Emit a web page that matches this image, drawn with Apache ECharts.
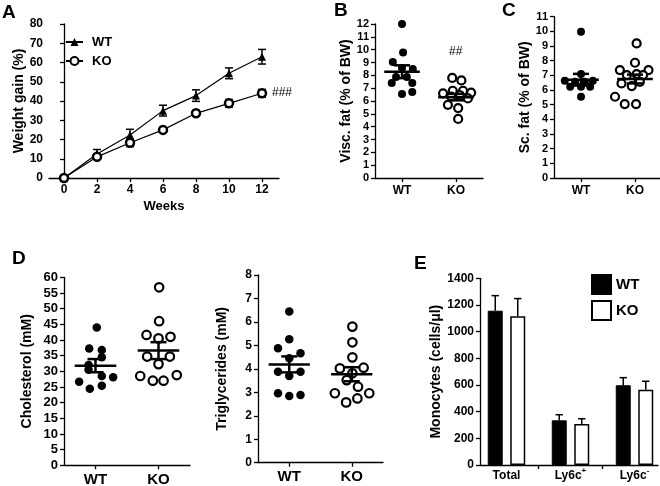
<!DOCTYPE html>
<html><head><meta charset="utf-8">
<script src="https://cdn.jsdelivr.net/npm/echarts@6/dist/echarts.min.js"></script>
<style>html,body{margin:0;padding:0;background:#fff}#c{width:660px;height:486px}</style>
</head><body><div id="c"></div>
<script>
// ---------- DATA ----------
// Panel A: weight gain (%)
const weeks = [0, 2, 4, 6, 8, 10, 12];
const wtGain = [0, 12.5, 22.3, 35, 42.8, 54.4, 63];
const wtGainSem = [0, 2.3, 3, 2.8, 3, 2.8, 3.8];
const koGain = [0, 11, 18.3, 25, 33.6, 38.8, 44];
const koGainSem = [0, 1.2, 2, 1, 1.5, 2, 2];
const groups = ['WT', 'KO'];
// Panel B: visceral fat (% of BW)
const viscWT = [12.0, 9.77, 9.04, 8.57, 8.5, 7.87, 7.87, 7.4, 7.4, 6.55, 6.7];
const viscWTJit = [0, 0.02, -0.17, 0, 0.2, -0.11, 0.09, -0.19, 0.19, 0, 0.19];
const viscKO = [7.8, 7.6, 6.6, 6.8, 6.8, 6.65, 6.2, 6.45, 5.7, 5.45, 4.6, 6.35];
const viscKOJit = [-0.07, 0.1, -0.24, -0.06, 0.13, 0.28, 0.22, 0.07, -0.15, 0.04, 0.04, -0.09];
const viscMean = [8.28, 6.3];
const viscSem = [0.5, 0.25];
// Panel C: subcutaneous fat (% of BW)
const scWT = [9.97, 7.09, 6.63, 6.63, 6.56, 6.56, 6.22, 6.22, 6.22, 5.54];
const scWTJit = [0, 0, -0.3, 0.22, -0.11, 0.07, -0.2, 0, 0.17, 0];
const scKO = [9.18, 7.86, 7.36, 7.36, 7.02, 7.09, 7.02, 6.45, 6.27, 6.56, 5.54, 5.04, 5.04];
const scKOJit = [0.03, 0, -0.28, 0.25, -0.15, 0.03, 0.15, -0.25, -0.06, 0.09, -0.37, -0.19, 0.02];
const scMean = [6.7, 6.75];
const scSem = [0.4, 0.3];
// Panel D: cholesterol (mM)
const cholWT = [44, 37.3, 36.8, 34.5, 32, 30.5, 28.5, 28.1, 26.7, 25.4, 24.4];
const cholWTJit = [0.02, -0.1, 0.1, 0.1, -0.11, -0.11, 0.1, 0.28, -0.26, 0.1, -0.09];
const cholKO = [56.8, 46, 41.6, 40.5, 41, 34.7, 34.7, 32.3, 28.5, 27, 27, 28.8];
const cholKOJit = [0.01, 0.01, -0.19, 0, 0.19, -0.18, 0.18, 0, -0.29, -0.09, 0.08, 0.29];
const cholMean = [31.8, 36.6];
const cholSem = [2.1, 2.7];
// Panel D: triglycerides (mM)
const trigWT = [6.44, 5.26, 4.88, 4.66, 4.45, 3.88, 3.88, 3.7, 2.96, 2.84, 2.89];
const trigWTJit = [0, 0, -0.18, 0.18, 0, -0.18, 0.18, 0, -0.18, 0, 0.18];
const trigKO = [5.8, 5.13, 4.49, 4.02, 4.05, 3.81, 3.52, 3.24, 2.96, 2.96, 2.57, 2.74];
const trigKOJit = [0.01, 0.01, 0.01, -0.19, 0.19, 0.01, -0.08, 0.1, -0.27, 0.28, -0.09, 0.09];
const trigMean = [4.19, 3.77];
const trigSem = [0.34, 0.3];
// Panel E: monocytes (cells/µl)
const monoCats = ['Total', 'Ly6c{sup|+}', 'Ly6c{sup|-}'];
const monoWT = [1157, 335, 598];
const monoWTErr = [113, 42, 57];
const monoKO = [1115, 307, 565];
const monoKOErr = [133, 40, 63];
// ---------- END DATA ----------

const FONT = '"Liberation Sans", Arial, Helvetica, sans-serif';
const BLACK = '#000';

function yAx(gi, max, interval, name, nameGap, fs) {
  return {
    type: 'value', gridIndex: gi, min: 0, max: max, interval: interval,
    name: name, nameLocation: 'middle', nameGap: nameGap,
    nameTextStyle: {fontFamily: FONT, fontWeight: 'bold', fontSize: 14, color: BLACK},
    axisLine: {show: true, lineStyle: {color: BLACK, width: 1.3}},
    axisTick: {show: true, length: 4, lineStyle: {color: BLACK, width: 1.3}},
    axisLabel: {fontFamily: FONT, fontWeight: 'bold', fontSize: fs, color: BLACK, margin: 6,
      formatter: v => String(v)},
    splitLine: {show: false}
  };
}
function xGroup(gi, fs) {
  return {
    type: 'value', gridIndex: gi, min: 0.5, max: 2.5,
    axisLine: {show: true, onZero: false, lineStyle: {color: BLACK, width: 1.3}},
    axisTick: {show: true, length: 4, customValues: [1, 2], lineStyle: {color: BLACK, width: 1.3}},
    axisLabel: {customValues: [1, 2], formatter: v => groups[Math.round(v) - 1],
      fontFamily: FONT, fontWeight: 'bold', fontSize: fs, color: BLACK, margin: 7},
    splitLine: {show: false}
  };
}
function pts(vals, jit, g) { return vals.map((v, i) => [g + jit[i], v]); }
function dotSeries(gi, vals, jit, g, hollow, size) {
  return {
    type: 'scatter', xAxisIndex: gi, yAxisIndex: gi, symbol: 'circle', symbolSize: size,
    data: pts(vals, jit, g), z: 3,
    itemStyle: hollow ? {color: '#fff', borderColor: BLACK, borderWidth: 2.2, opacity: 1}
                      : {color: BLACK, opacity: 1}
  };
}
function meanSemRender(params, api) {
  const x = api.value(0), m = api.value(1), s = api.value(2);
  const a = api.coord([x - 0.33, m]), b = api.coord([x + 0.33, m]);
  const t = api.coord([x, m + s]), d = api.coord([x, m - s]);
  const w = 8, st = {stroke: BLACK, lineWidth: 2.5};
  return {type: 'group', children: [
    {type: 'line', shape: {x1: a[0], y1: a[1], x2: b[0], y2: b[1]}, style: st},
    {type: 'line', shape: {x1: t[0], y1: t[1], x2: d[0], y2: d[1]}, style: st},
    {type: 'line', shape: {x1: t[0] - w, y1: t[1], x2: t[0] + w, y2: t[1]}, style: st},
    {type: 'line', shape: {x1: d[0] - w, y1: d[1], x2: d[0] + w, y2: d[1]}, style: st}
  ]};
}
function meanSeries(gi, means, sems) {
  return {type: 'custom', xAxisIndex: gi, yAxisIndex: gi, z: 5,
    data: means.map((m, i) => [i + 1, m, sems[i]]), encode: {x: 0, y: 1},
    renderItem: meanSemRender};
}
function errRender(params, api) {
  const x = api.value(0), m = api.value(1), s = api.value(2);
  if (!s) return null;
  const t = api.coord([x, m + s]), b = api.coord([x, m - s]);
  const w = 4, st = {stroke: BLACK, lineWidth: 1.5};
  return {type: 'group', children: [
    {type: 'line', shape: {x1: t[0], y1: t[1], x2: b[0], y2: b[1]}, style: st},
    {type: 'line', shape: {x1: t[0] - w, y1: t[1], x2: t[0] + w, y2: t[1]}, style: st},
    {type: 'line', shape: {x1: b[0] - w, y1: b[1], x2: b[0] + w, y2: b[1]}, style: st}
  ]};
}
function barErr(vals, errs, off) {
  return {type: 'custom', xAxisIndex: 5, yAxisIndex: 5, z: 1,
    data: vals.map((v, i) => [i + 1, v, errs[i]]), encode: {x: 0, y: 1},
    renderItem: function (params, api) {
      const x = api.value(0), v = api.value(1), e = api.value(2);
      const b = api.coord([x, v]), t = api.coord([x, v + e]);
      const cx = b[0] + off, w = 3.7, st = {stroke: BLACK, lineWidth: 1.5};
      return {type: 'group', children: [
        {type: 'line', shape: {x1: cx, y1: b[1], x2: cx, y2: t[1]}, style: st},
        {type: 'line', shape: {x1: cx - w, y1: t[1], x2: cx + w, y2: t[1]}, style: st}
      ]};
    }};
}

const chart = echarts.init(document.getElementById('c'), null, {renderer: 'canvas'});
const gridBase = {outerBoundsMode: 'none', containLabel: false};
const option = {
  animation: false,
  backgroundColor: '#fff',
  grid: [
    Object.assign({left: 49, top: 24, width: 230, height: 154}, gridBase),
    Object.assign({left: 375, top: 24, width: 108, height: 154}, gridBase),
    Object.assign({left: 554, top: 16.7, width: 108, height: 161.3}, gridBase),
    Object.assign({left: 64, top: 277.3, width: 126, height: 188}, gridBase),
    Object.assign({left: 258, top: 275, width: 125, height: 187.7}, gridBase),
    Object.assign({left: 480, top: 278.3, width: 178, height: 186.7}, gridBase)
  ],
  xAxis: [
    {type: 'value', gridIndex: 0, min: -0.91, max: 13.03,
      name: 'Weeks', nameLocation: 'middle', nameGap: 22,
      nameTextStyle: {fontFamily: FONT, fontWeight: 'bold', fontSize: 13, color: BLACK},
      axisLine: {show: true, onZero: false, lineStyle: {color: BLACK, width: 1.3}},
      axisTick: {show: true, length: 4, customValues: weeks, lineStyle: {color: BLACK, width: 1.3}},
      axisLabel: {customValues: weeks, fontFamily: FONT, fontWeight: 'bold', fontSize: 12, color: BLACK, margin: 6},
      splitLine: {show: false}},
    xGroup(1, 12), xGroup(2, 12), xGroup(3, 15), xGroup(4, 15),
    {type: 'value', gridIndex: 5, min: 0.586, max: 3.367,
      axisLine: {show: true, onZero: false, lineStyle: {color: BLACK, width: 1.3}},
      axisTick: {show: true, length: 4, customValues: [1.5, 2.5], lineStyle: {color: BLACK, width: 1.3}},
      axisLabel: {customValues: [1, 2, 3], formatter: v => monoCats[Math.round(v) - 1],
        fontFamily: FONT, fontWeight: 'bold', fontSize: 12, color: BLACK, margin: 2, lineHeight: 18,
        rich: {sup: {fontFamily: FONT, fontWeight: 'bold', fontSize: 8, color: BLACK, verticalAlign: 'top', lineHeight: 9}}},
      splitLine: {show: false}}
  ],
  yAxis: [
    yAx(0, 80, 10, 'Weight gain (%)', 22, 12),
    yAx(1, 12, 1, 'Visc. fat (% of BW)', 20, 11),
    yAx(2, 11, 1, 'Sc. fat (% of BW)', 20, 11),
    yAx(3, 60, 5, 'Cholesterol (mM)', 30, 13),
    yAx(4, 8, 1, 'Triglycerides (mM)', 29, 12),
    yAx(5, 1400, 200, 'Monocytes (cells/\u03bcl)', 35, 12)
  ],
  legend: [
    {data: ['WT', 'KO'], orient: 'vertical', left: 60, top: 30, itemWidth: 17, itemHeight: 10, itemGap: 5,
      textStyle: {fontFamily: FONT, fontWeight: 'bold', fontSize: 13, color: BLACK, lineHeight: 14, padding: [0, 0, 0, 4]},
      selectedMode: false},
    {data: ['WT ', 'KO '], orient: 'vertical', left: 586, top: 269, itemWidth: 19, itemHeight: 19, itemGap: 5,
      icon: 'rect',
      textStyle: {fontFamily: FONT, fontWeight: 'bold', fontSize: 15, color: BLACK},
      selectedMode: false}
  ],
  series: [
    // Panel A
    {type: 'custom', xAxisIndex: 0, yAxisIndex: 0, z: 1, encode: {x: 0, y: 1},
      data: weeks.map((w, i) => [w, wtGain[i], wtGainSem[i]]), renderItem: errRender},
    {type: 'custom', xAxisIndex: 0, yAxisIndex: 0, z: 1, encode: {x: 0, y: 1},
      data: weeks.map((w, i) => [w, koGain[i], koGainSem[i]]), renderItem: errRender},
    {name: 'WT', type: 'line', xAxisIndex: 0, yAxisIndex: 0, z: 3,
      data: weeks.map((w, i) => [w, wtGain[i]]), symbol: 'triangle', symbolSize: 8,
      lineStyle: {color: BLACK, width: 1.2}, itemStyle: {color: BLACK}},
    {name: 'KO', type: 'line', xAxisIndex: 0, yAxisIndex: 0, z: 4,
      data: weeks.map((w, i) => [w, koGain[i]]), symbol: 'circle', symbolSize: 8,
      lineStyle: {color: BLACK, width: 1.2}, itemStyle: {color: '#fff', borderColor: BLACK, borderWidth: 2.5}},
    // Panel B
    dotSeries(1, viscWT, viscWTJit, 1, false, 8),
    dotSeries(1, viscKO, viscKOJit, 2, true, 8),
    meanSeries(1, viscMean, viscSem),
    // Panel C
    dotSeries(2, scWT, scWTJit, 1, false, 8),
    dotSeries(2, scKO, scKOJit, 2, true, 8),
    meanSeries(2, scMean, scSem),
    // Panel D cholesterol
    dotSeries(3, cholWT, cholWTJit, 1, false, 8.5),
    dotSeries(3, cholKO, cholKOJit, 2, true, 8.5),
    meanSeries(3, cholMean, cholSem),
    // Panel D triglycerides
    dotSeries(4, trigWT, trigWTJit, 1, false, 8.5),
    dotSeries(4, trigKO, trigKOJit, 2, true, 8.5),
    meanSeries(4, trigMean, trigSem),
    // Panel E
    {name: 'WT ', type: 'bar', xAxisIndex: 5, yAxisIndex: 5, barWidth: 15, barGap: '50%', z: 2,
      data: monoWT.map((v, i) => [i + 1, v]), itemStyle: {color: BLACK, borderColor: BLACK, borderWidth: 1}},
    {name: 'KO ', type: 'bar', xAxisIndex: 5, yAxisIndex: 5, barWidth: 15, barGap: '50%', z: 2,
      data: monoKO.map((v, i) => [i + 1, v]), itemStyle: {color: '#fff', borderColor: BLACK, borderWidth: 1.5}},
    barErr(monoWT, monoWTErr, -11.25),
    barErr(monoKO, monoKOErr, 11.25)
  ],
  graphic: [
    {type: 'text', left: 2, top: 3, style: {text: 'A', font: 'bold 19px ' + FONT, fill: BLACK}},
    {type: 'text', left: 334, top: 1, style: {text: 'B', font: 'bold 19px ' + FONT, fill: BLACK}},
    {type: 'text', left: 502, top: 1, style: {text: 'C', font: 'bold 19px ' + FONT, fill: BLACK}},
    {type: 'text', left: 12, top: 249, style: {text: 'D', font: 'bold 19px ' + FONT, fill: BLACK}},
    {type: 'text', left: 414, top: 254, style: {text: 'E', font: 'bold 19px ' + FONT, fill: BLACK}},
    {type: 'text', left: 272, top: 87, style: {text: '###', font: '12px ' + FONT, fill: BLACK}},
    {type: 'text', left: 449, top: 46, style: {text: '##', font: '12px ' + FONT, fill: BLACK}}
  ]
};
chart.setOption(option);
</script>
</body></html>
